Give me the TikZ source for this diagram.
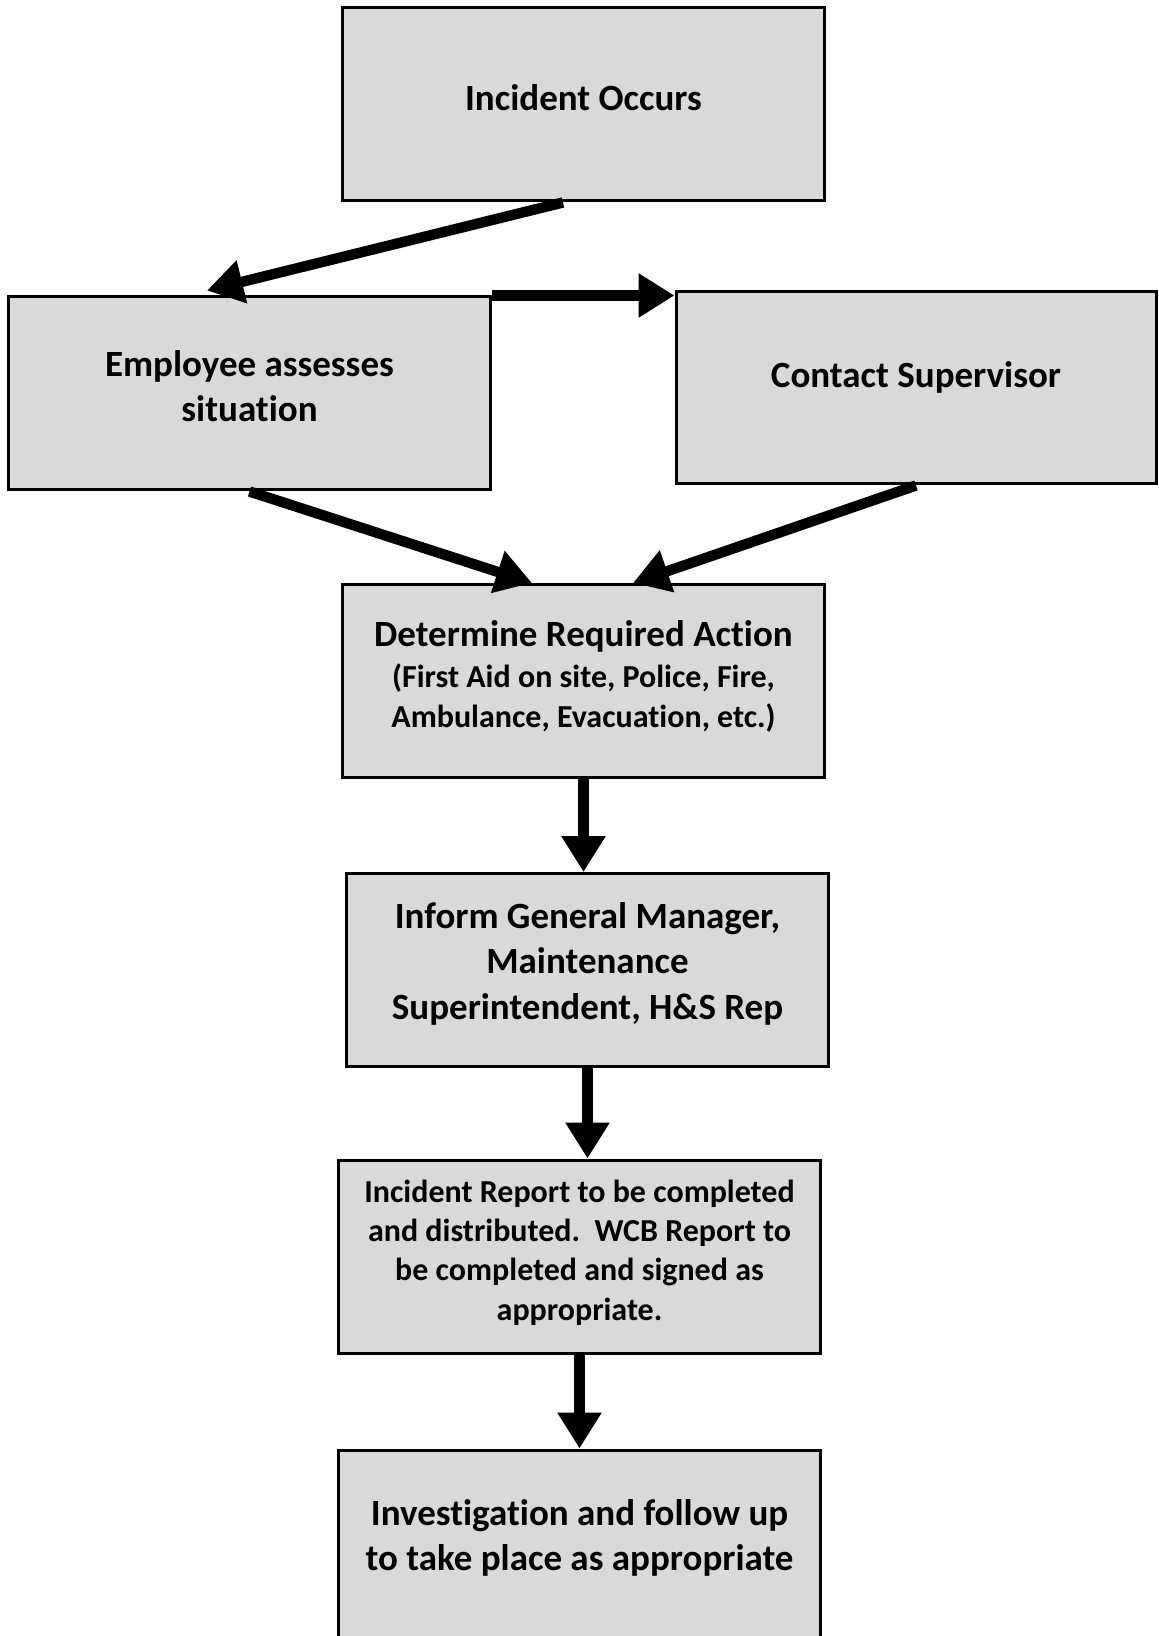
\documentclass[tikz,border=0pt]{standalone}
\usepackage{fontspec}
\setmainfont{Carlito}[Ligatures=NoCommon]
\usetikzlibrary{arrows.meta,positioning}
\definecolor{boxgray}{HTML}{D9D9D9}

\begin{document}
\begin{tikzpicture}[->,>={Triangle[length=18pt,width=21pt]},auto,thin]
\tikzstyle{box}=[rectangle,draw,line width=1.5pt,fill=boxgray,text=black,align=center,inner sep=0pt,minimum width=240.5pt,minimum height=96.5pt,font=\fontsize{18.5}{22.6}\selectfont\bfseries]
\tikzstyle{smalltext}=[font=\fontsize{16}{19.6}\selectfont\bfseries]

\useasboundingbox (-291.75pt,52.25pt) rectangle (287.25pt,-765.75pt);

\node[box,text depth=7.3pt]          (A)         {Incident Occurs};
\node[box,text depth=7.3pt]          (B) [below of=A,node distance=144.5pt,xshift=-167pt] {Employee assesses\\situation};
\node[box,text depth=13.3pt,minimum width=240pt,minimum height=96pt] (C) [below of=A,node distance=141.75pt,xshift=166.25pt] {Contact Supervisor};
\node[box,text depth=7pt]          (D) [below of=A,node distance=288.25pt] {Determine Required Action\\[-2pt]\fontsize{16}{19.6}\selectfont (First Aid on site, Police, Fire,\\[-3pt]\fontsize{16}{19.6}\selectfont Ambulance, Evacuation, etc.)};
\node[box,text depth=9.1pt]          (E) [below of=D,node distance=144.5pt,xshift=2pt] {Inform General Manager,\\Maintenance\\Superintendent, H\&S Rep};
\node[box,smalltext,text depth=6.4pt] (F) [below of=E,node distance=143.25pt,xshift=-4pt] {Incident Report to be completed\\and distributed.\ \ WCB Report to\\be completed and signed as\\appropriate.};
\node[box,text depth=11.4pt]          (G) [below of=F,node distance=145pt] {Investigation and follow up\\to take place as appropriate};

\path[line width=5.2pt]
([xshift=-10.25pt]A.south) edge ([xshift=-21.25pt,yshift=2.5pt]B.north)
(B.north east) edge (B.north east -| C.west)
(B.south) edge ([xshift=-25.75pt]D.north)
(C.south) edge ([xshift=24.75pt]D.north)
(D.south) edge (D.south |- E.north)
(E.south) edge (E.south |- F.north)
(F.south) edge (F.south |- G.north)
;

\end{tikzpicture}
\end{document}
